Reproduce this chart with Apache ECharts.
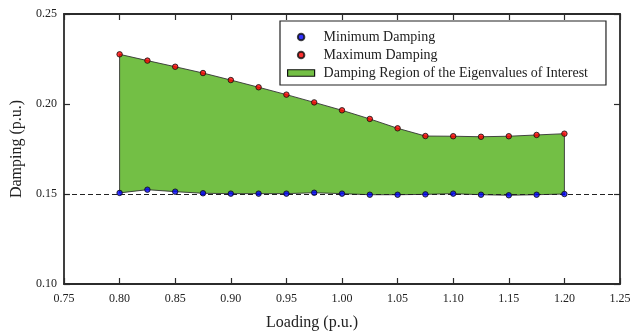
<!DOCTYPE html>
<html lang="en">
<head>
    <meta charset="UTF-8">
    <title>Damping</title>
    <style type="text/css">
        * { margin: 0; padding: 0; }
        html, body { width: 100%; height: 100%; background: #fff; }
        #main { width: 631px; height: 333px; }
    </style>
</head>
<body>
<div id="main"></div>
<script src="https://cdn.jsdelivr.net/npm/echarts@6/dist/echarts.min.js"></script>
<script>
    var myChart = echarts.init(document.getElementById('main'));

    // loading levels (p.u.)
    const loading = [0.800, 0.825, 0.850, 0.875, 0.900, 0.925, 0.950, 0.975, 1.000,
        1.025, 1.050, 1.075, 1.100, 1.125, 1.150, 1.175, 1.200];
    const minDamping = [0.1506, 0.1524, 0.1513, 0.1504, 0.1502, 0.1502, 0.1502, 0.1507, 0.1502,
        0.1496, 0.1496, 0.1498, 0.1502, 0.1496, 0.1493, 0.1496, 0.1500];
    const maxDamping = [0.2276, 0.2241, 0.2207, 0.2172, 0.2133, 0.2093, 0.2052, 0.2009, 0.1965,
        0.1917, 0.1865, 0.1822, 0.1821, 0.1818, 0.1821, 0.1828, 0.1835];
    const threshold = 0.15;

    const serif = "'Liberation Serif', 'DejaVu Serif', serif";
    const axisColor = '#2b2b2b';
    const green = '#73bf45';

    var minData = loading.map((x, i) => [x, minDamping[i]]);
    var maxData = loading.map((x, i) => [x, maxDamping[i]]);

    function fmt(v) { return v.toFixed(2); }

    var baseAxis = {
        axisLine: { show: true, lineStyle: { color: axisColor, width: 1.8 } },
        axisTick: { show: true, inside: true, length: 6, lineStyle: { color: axisColor, width: 1.2 } },
        splitLine: { show: false },
        axisLabel: { color: '#222', fontFamily: serif, fontSize: 12 }
    };

    option = {
        backgroundColor: '#fff',
        animation: false,
        grid: { left: 64, right: 11, top: 14, bottom: 49, outerBoundsMode: 'none' },
        legend: {
            orient: 'vertical',
            left: 280,
            top: 21,
            padding: [7, 18, 3, 7],
            itemGap: 0,
            itemWidth: 27,
            itemHeight: 6.5,
            borderColor: '#222',
            borderWidth: 1.2,
            borderRadius: 0,
            backgroundColor: '#fff',
            textStyle: { fontFamily: serif, fontSize: 14, color: '#222', lineHeight: 18, padding: [0, 0, 0, 4] },
            data: [
                { name: 'Minimum Damping', icon: 'circle' },
                { name: 'Maximum Damping', icon: 'circle' },
                { name: 'Damping Region of the Eigenvalues of Interest', icon: 'rect',
                  itemStyle: { color: green, borderColor: '#111', borderWidth: 1.2 } }
            ]
        },
        xAxis: [
            Object.assign({}, baseAxis, {
                type: 'value', min: 0.75, max: 1.25, interval: 0.05,
                name: 'Loading (p.u.)', nameLocation: 'middle', nameGap: 31,
                nameTextStyle: { fontFamily: serif, fontSize: 16, color: '#222', padding: [0, 60, 0, 0] },
                axisLabel: Object.assign({}, baseAxis.axisLabel, { margin: 9, formatter: fmt })
            }),
            Object.assign({}, baseAxis, {
                type: 'value', min: 0.75, max: 1.25, interval: 0.05, position: 'top',
                axisLabel: { show: false }
            })
        ],
        yAxis: [
            Object.assign({}, baseAxis, {
                type: 'value', min: 0.10, max: 0.25, interval: 0.05,
                name: 'Damping (p.u.)', nameLocation: 'middle', nameGap: 33, nameRotate: 90,
                nameTextStyle: { fontFamily: serif, fontSize: 16, color: '#222' },
                axisLabel: Object.assign({}, baseAxis.axisLabel, { margin: 7, formatter: fmt })
            }),
            Object.assign({}, baseAxis, {
                type: 'value', min: 0.10, max: 0.25, interval: 0.05, position: 'right',
                axisLabel: { show: false }
            })
        ],
        series: [
            {
                name: 'Damping Region of the Eigenvalues of Interest',
                type: 'custom',
                z: 1,
                itemStyle: { color: green },
                data: [0],
                renderItem: function (params, api) {
                    var pts = [];
                    for (var i = 0; i < maxData.length; i++) pts.push(api.coord(maxData[i]));
                    for (var j = minData.length - 1; j >= 0; j--) pts.push(api.coord(minData[j]));
                    return {
                        type: 'polygon',
                        shape: { points: pts },
                        style: { fill: green, stroke: '#333', lineWidth: 0.9 }
                    };
                },
                markLine: {
                    silent: true,
                    symbol: 'none',
                    label: { show: false },
                    z: 3,
                    lineStyle: { color: '#222', type: [5, 3], width: 1 },
                    data: [{ yAxis: threshold }]
                }
            },
            {
                name: 'Minimum Damping',
                type: 'scatter',
                z: 5,
                symbol: 'circle',
                symbolSize: 5.5,
                itemStyle: { color: '#0000ff', borderColor: '#111', borderWidth: 1 },
                data: minData
            },
            {
                name: 'Maximum Damping',
                type: 'scatter',
                z: 5,
                symbol: 'circle',
                symbolSize: 5.5,
                itemStyle: { color: '#ff0000', borderColor: '#111', borderWidth: 1 },
                data: maxData
            }
        ]
    };

    myChart.setOption(option);
    window.onresize = () => {
        myChart.resize();
    };
</script>
</body>
</html>
